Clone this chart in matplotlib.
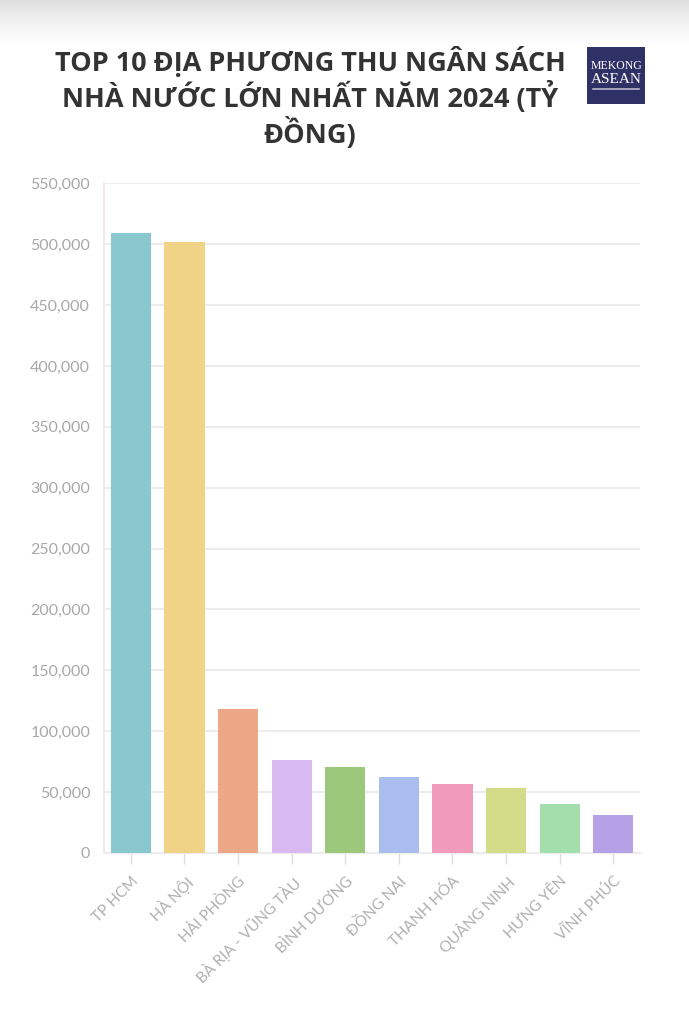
import numpy as np
import matplotlib.pyplot as plt
from matplotlib.patches import Rectangle
from matplotlib.ticker import FuncFormatter

# data
provinces = ["TP HCM", "HÀ NỘI", "HẢI PHÒNG", "BÀ RỊA - VŨNG TÀU", "BÌNH DƯƠNG",
             "ĐỒNG NAI", "THANH HÓA", "QUẢNG NINH", "HƯNG YÊN", "VĨNH PHÚC"]
revenue = [508800, 501600, 118300, 76400, 71000, 62400, 56600, 53000, 40000, 31200]
colors = ["#8ac8cf", "#f0d386", "#eca886", "#d8b9f0", "#9bc87a",
          "#a9bdef", "#f09bb9", "#d4dc8a", "#a2dfad", "#b4a1e6"]
yticks = [0, 50000, 100000, 150000, 200000, 250000, 300000, 350000, 400000, 450000, 500000, 550000]

title = "TOP 10 ĐỊA PHƯƠNG THU NGÂN SÁCH\nNHÀ NƯỚC LỚN NHẤT NĂM 2024 (TỶ\nĐỒNG)"

fig = plt.figure(figsize=(6.89, 10.24), dpi=100)
fig.patch.set_facecolor("white")

# soft shadow band at top
sh = fig.add_axes([0, 0.955, 1, 0.045])
grad = np.linspace(0, 1, 60).reshape(-1, 1)
sh.imshow(0.86 + 0.14 * grad ** 0.7, cmap="gray", vmin=0, vmax=1, aspect="auto",
          extent=[0, 1, 0, 1])
sh.axis("off")

ax = fig.add_axes([0.151, 0.167, 0.778, 0.654])
x = np.arange(len(provinces))
ax.bar(x, revenue, width=0.75, color=colors, zorder=3)
ax.set_xlim(-0.5, len(provinces) - 0.5)
ax.set_ylim(0, 550000)
ax.set_yticks(yticks)
ax.yaxis.set_major_formatter(FuncFormatter(lambda v, p: f"{int(v):,}"))
ax.grid(axis="y", color="#ececec", linewidth=1.5, zorder=0)
for s in ["top", "right"]:
    ax.spines[s].set_visible(False)
ax.spines["left"].set_color("#f3e9ec")
ax.spines["left"].set_linewidth(1.5)
ax.spines["bottom"].set_color("#ececec")
ax.spines["bottom"].set_linewidth(1.5)
ax.tick_params(axis="y", length=0, pad=10, labelsize=11.5, labelcolor="#a8a8a8")
ax.tick_params(axis="x", length=8, width=1, color="#dedede", pad=7,
               labelsize=11, labelcolor="#b0b0b0")
ax.set_xticks(x)
ax.set_xticklabels(provinces, rotation=45, ha="right", rotation_mode="anchor",
                   family=["Lato", "DejaVu Sans"])
for lab in ax.get_yticklabels():
    lab.set_family(["Lato", "DejaVu Sans"])

fig.text(0.45, 0.955, title, ha="center", va="top", fontsize=19.5,
         fontweight="bold", color="#333333", linespacing=1.15,
         family=["Open Sans", "DejaVu Sans"])

# logo
lg = fig.add_axes([587 / 689, 1 - 104 / 1024, 58 / 689, 57 / 1024])
lg.add_patch(Rectangle((0, 0), 1, 1, color="#2f3166"))
lg.set_xlim(0, 1)
lg.set_ylim(0, 1)
lg.axis("off")
lg.text(0.5, 0.66, "MEKONG", ha="center", va="center", color="white",
        fontsize=8.5, family="Liberation Serif")
lg.text(0.5, 0.43, "ASEAN", ha="center", va="center", color="white",
        fontsize=11, family="Liberation Serif")
lg.plot([0.1, 0.9], [0.27, 0.27], color="#b8b8cc", linewidth=1.2)

fig.savefig("out.png", dpi=100)
